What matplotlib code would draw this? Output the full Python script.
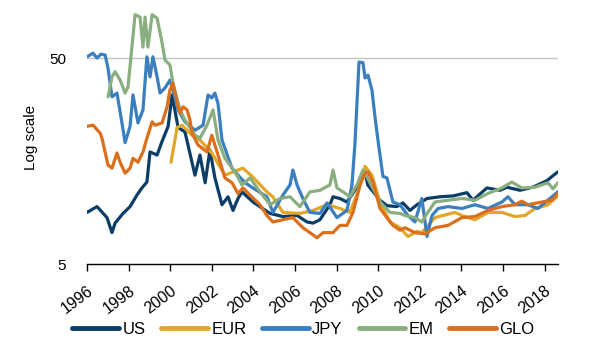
import matplotlib.pyplot as plt
import matplotlib.ticker as mticker

plt.rcParams['font.family'] = ['Liberation Sans', 'DejaVu Sans']

# implied volatility series (decimal year, level)
us_t = [1996.0, 1996.48, 1996.96, 1997.2, 1997.35, 1997.73, 1998.07, 1998.4, 1998.64, 1998.88,
        1999.03, 1999.37, 1999.6, 1999.9, 2000.09, 2000.38, 2000.71, 2001.19, 2001.43, 2001.68,
        2001.91, 2002.15, 2002.49, 2002.78, 2003.02, 2003.26, 2003.45, 2003.98, 2004.8, 2005.42,
        2006.1, 2006.58, 2006.87, 2007.2, 2007.68, 2007.83, 2008.16, 2008.5, 2008.98, 2009.37,
        2009.5, 2010.09, 2010.42, 2010.9, 2011.19, 2011.53, 2011.87, 2012.35, 2012.97, 2013.6,
        2014.27, 2014.56, 2015.23, 2015.86, 2016.19, 2016.82, 2017.44, 2018.12, 2018.4, 2018.64]
us_v = [8.9, 9.5, 8.4, 7.1, 7.9, 8.8, 9.5, 10.8, 11.7, 12.5,
        17.5, 16.9, 19.6, 23.3, 33.1, 23.0, 21.9, 13.5, 16.9, 12.4,
        17.9, 13.1, 9.7, 10.6, 9.1, 10.4, 11.2, 10.0, 8.8, 8.5,
        8.6, 8.0, 7.9, 8.2, 9.7, 10.6, 10.4, 10.0, 11.8, 14.0,
        12.1, 10.2, 9.6, 9.5, 9.9, 9.1, 9.7, 10.4, 10.6, 10.7,
        11.1, 10.2, 11.7, 11.4, 11.8, 11.4, 11.8, 12.7, 13.4, 14.0]

eur_t = [2000.04, 2000.33, 2000.57, 2001.05, 2001.43, 2002.0, 2002.63, 2003.26, 2003.5, 2003.98,
         2004.65, 2004.94, 2005.42, 2006.24, 2006.87, 2007.54, 2008.16, 2008.64, 2009.03, 2009.37,
         2009.7, 2010.09, 2010.57, 2011.05, 2011.43, 2011.87, 2012.1, 2012.73, 2013.69, 2014.03,
         2014.65, 2015.28, 2015.95, 2016.58, 2017.06, 2017.54, 2018.17, 2018.64]
eur_v = [15.6, 23.0, 23.6, 21.1, 20.0, 17.3, 13.5, 14.3, 14.6, 13.2,
         11.2, 10.6, 8.9, 8.8, 9.1, 9.7, 9.3, 8.9, 11.2, 14.9,
         13.5, 10.0, 8.0, 7.5, 6.8, 7.2, 7.1, 8.4, 8.9, 8.6,
         8.2, 8.9, 8.9, 8.5, 8.6, 9.3, 9.7, 10.7]

jpy_t = [1996.0, 1996.29, 1996.48, 1996.67, 1996.87, 1997.01, 1997.2, 1997.44, 1997.68, 1997.83,
         1998.07, 1998.21, 1998.45, 1998.69, 1998.88, 1999.03, 1999.17, 1999.37, 1999.51, 1999.75,
         1999.99, 2000.13, 2000.38, 2000.71, 2001.19, 2001.58, 2001.82, 2002.0, 2002.15, 2002.3,
         2002.49, 2002.97, 2003.26, 2003.6, 2003.98, 2004.65, 2004.94, 2005.42, 2005.76, 2005.9,
         2006.1, 2006.38, 2006.72, 2007.2, 2007.54, 2008.02, 2008.5, 2008.74, 2008.88, 2009.08,
         2009.27, 2009.37, 2009.51, 2009.7, 2009.85, 2009.99, 2010.23, 2010.42, 2010.71, 2011.05,
         2011.43, 2011.77, 2012.1, 2012.35, 2012.59, 2012.88, 2013.36, 2014.03, 2014.65, 2015.28,
         2015.95, 2016.24, 2016.58, 2017.2, 2017.68, 2018.36, 2018.64]
jpy_v = [50.7, 52.8, 50.0, 52.2, 51.7, 44.6, 32.4, 33.8, 24.2, 19.4,
         23.3, 33.1, 24.2, 28.0, 50.7, 40.5, 50.7, 40.5, 33.8, 35.8,
         39.1, 35.0, 28.0, 24.5, 22.3, 23.6, 33.1, 32.0, 33.8, 30.0,
         20.0, 14.6, 13.5, 12.4, 11.7, 10.6, 8.9, 10.8, 12.1, 14.3,
         12.1, 10.4, 8.9, 8.8, 9.9, 8.4, 9.1, 12.1, 18.9, 47.8,
         47.5, 40.0, 41.3, 35.0, 25.8, 20.0, 13.3, 13.1, 10.0, 9.7,
         8.6, 8.0, 10.4, 6.8, 8.6, 9.3, 9.5, 9.3, 9.7, 9.3,
         10.0, 10.6, 9.7, 9.7, 9.3, 10.6, 11.2]

em_t = [1997.01, 1997.2, 1997.35, 1997.59, 1997.83, 1997.97, 1998.16, 1998.31, 1998.55, 1998.69,
        1998.79, 1998.93, 1999.13, 1999.37, 1999.61, 1999.75, 1999.99, 2000.13, 2000.47, 2000.71,
        2001.19, 2001.43, 2001.77, 2002.06, 2002.3, 2002.63, 2003.12, 2003.45, 2003.84, 2004.32,
        2004.8, 2005.28, 2005.76, 2006.24, 2006.72, 2007.2, 2007.68, 2007.83, 2008.02, 2008.31,
        2008.64, 2008.98, 2009.27, 2009.61, 2010.09, 2010.57, 2011.05, 2011.29, 2011.77, 2012.1,
        2012.39, 2012.73, 2013.36, 2014.03, 2014.65, 2015.28, 2015.95, 2016.43, 2016.91, 2017.54,
        2018.17, 2018.4, 2018.64]
em_v = [32.4, 40.5, 42.9, 39.1, 33.8, 36.2, 56.5, 81.2, 79.0, 56.5,
        79.0, 56.5, 81.2, 78.0, 59.1, 48.9, 46.2, 37.8, 28.0, 25.0,
        21.1, 20.4, 23.6, 28.0, 20.0, 16.3, 14.0, 12.1, 13.1, 11.2,
        9.7, 10.4, 10.6, 9.5, 11.2, 11.4, 12.1, 14.3, 11.7, 11.2,
        10.6, 12.1, 14.3, 12.4, 10.0, 8.9, 8.8, 8.6, 8.4, 8.0,
        8.9, 10.0, 10.2, 10.4, 10.2, 11.0, 11.7, 12.5, 11.7, 11.8,
        12.4, 11.6, 12.4]

glo_t = [1996.0, 1996.29, 1996.63, 1996.72, 1997.01, 1997.2, 1997.44, 1997.59, 1997.83, 1998.07,
         1998.21, 1998.45, 1998.69, 1998.88, 1999.13, 1999.27, 1999.61, 1999.85, 1999.99, 2000.13,
         2000.33, 2000.47, 2000.62, 2000.81, 2000.95, 2001.05, 2001.34, 2001.77, 2002.0, 2002.3,
         2002.63, 2002.97, 2003.26, 2003.5, 2003.84, 2004.32, 2004.65, 2004.94, 2005.42, 2005.9,
         2006.38, 2006.72, 2007.06, 2007.35, 2007.83, 2008.16, 2008.5, 2008.79, 2009.13, 2009.37,
         2009.51, 2009.75, 2010.09, 2010.42, 2010.71, 2011.05, 2011.29, 2011.77, 2012.25, 2012.73,
         2013.36, 2014.03, 2014.65, 2015.28, 2015.95, 2016.58, 2016.91, 2017.2, 2017.88, 2018.36,
         2018.64]
glo_v = [23.3, 23.6, 21.6, 20.4, 15.1, 14.6, 17.3, 15.6, 13.8, 14.6,
         16.3, 15.6, 17.5, 20.4, 24.5, 23.6, 24.2, 29.0, 35.0, 37.8,
         30.3, 27.0, 29.0, 28.0, 25.0, 21.6, 18.9, 17.5, 21.1, 16.9,
         13.1, 12.4, 11.0, 11.7, 10.8, 9.7, 8.6, 8.0, 8.2, 8.4,
         7.5, 7.1, 6.7, 7.1, 7.1, 7.7, 7.7, 8.9, 12.1, 13.8,
         14.0, 12.5, 9.3, 8.4, 7.7, 7.3, 7.5, 7.1, 7.0, 7.5,
         7.7, 8.4, 8.5, 9.1, 9.5, 9.7, 10.1, 9.7, 10.0, 10.2,
         11.0]

series = [
    ('US', us_t, us_v, '#0b3d66'),
    ('EUR', eur_t, eur_v, '#e2a729'),
    ('JPY', jpy_t, jpy_v, '#3a7fc0'),
    ('EM', em_t, em_v, '#8bae80'),
    ('GLO', glo_t, glo_v, '#dc6f1c'),
]
year_ticks = list(range(1996, 2019, 2))

fig = plt.figure(figsize=(6.01, 3.59), dpi=100)
ax = fig.add_axes([0.1448, 0.2646, 0.7837, 0.706])

for name, t, v, c in series:
    ax.plot(t, v, color=c, lw=2.3, label=name, solid_capstyle='round', solid_joinstyle='round')

ax.set_yscale('log')
ax.set_ylim(5, 85)
ax.set_xlim(1996, 2018.65)
ax.yaxis.set_major_locator(mticker.FixedLocator([5, 50]))
ax.yaxis.set_minor_locator(mticker.NullLocator())
ax.yaxis.set_major_formatter(mticker.FuncFormatter(lambda v, p: '%g' % v))
ax.axhline(50, color='#c4c4c4', lw=1, zorder=0)

ax.set_xticks(year_ticks)
ax.set_xticklabels([str(y) for y in year_ticks], rotation=37, ha='right',
                   rotation_mode='anchor')
ax.tick_params(axis='x', length=5, width=1, color='black', labelsize=11.5, pad=9)
ax.tick_params(axis='y', length=0, labelsize=11, pad=15)

for s in ['top', 'right', 'left']:
    ax.spines[s].set_visible(False)
ax.spines['bottom'].set_linewidth(1)

ax.set_ylabel('Log scale', fontsize=11)
ax.yaxis.set_label_coords(-0.104, 0.5)

leg = fig.legend(*ax.get_legend_handles_labels(), loc='center', ncol=5,
                 bbox_to_anchor=(0.505, 0.083), frameon=False, fontsize=12,
                 handlelength=2.8, handletextpad=0.2, columnspacing=0.95)
for h in leg.get_lines():
    h.set_linewidth(3.5)

fig.savefig('out.png', dpi=100)
